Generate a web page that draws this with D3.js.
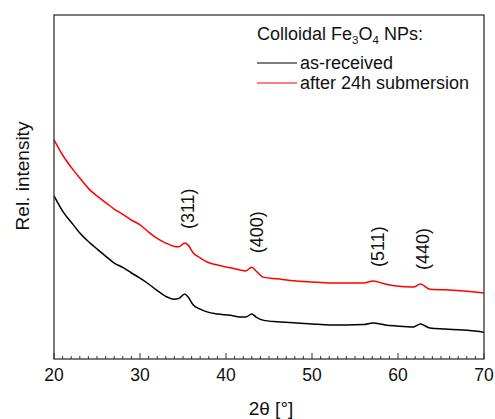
<!DOCTYPE html>
<meta charset="utf-8">
<script src="https://d3js.org/d3.v7.min.js"></script>
<style>
  body { margin: 0; background: #fff; }
  text { font-family: "Liberation Sans", Arial, sans-serif; fill: #111; }
</style>
<div id="chart"></div>
<script>
// 2theta values and relative intensities
var twoTheta = [20, 21, 22.25, 23, 24.2, 25, 26.1, 27, 28.1, 29, 30, 31, 31.9, 33, 33.9, 34.5, 35.2, 35.6, 36.2, 37, 37.8, 39, 40.5, 41.6, 42.3, 43, 43.5, 44.3, 46, 48.2, 50, 52.1, 54, 56, 57.1, 58.5, 59.8, 61.8, 62.6, 63.7, 65.5, 67.6, 70];
var submerged = [0.637, 0.593, 0.549, 0.526, 0.491, 0.474, 0.453, 0.436, 0.419, 0.404, 0.390, 0.369, 0.352, 0.337, 0.328, 0.326, 0.337, 0.331, 0.308, 0.294, 0.282, 0.273, 0.265, 0.259, 0.256, 0.267, 0.256, 0.238, 0.233, 0.227, 0.224, 0.221, 0.221, 0.221, 0.227, 0.218, 0.212, 0.209, 0.218, 0.203, 0.201, 0.198, 0.192];
var received = [0.474, 0.430, 0.390, 0.366, 0.337, 0.320, 0.297, 0.279, 0.265, 0.250, 0.235, 0.218, 0.201, 0.182, 0.174, 0.176, 0.189, 0.180, 0.157, 0.145, 0.137, 0.131, 0.127, 0.122, 0.122, 0.131, 0.122, 0.113, 0.108, 0.105, 0.102, 0.099, 0.099, 0.100, 0.105, 0.099, 0.096, 0.093, 0.102, 0.090, 0.087, 0.084, 0.078];

var peakLabels = ["(311)", "(400)", "(511)", "(440)"];
var peakPos = [35.6, 43.6, 57.6, 62.9];
var peakTop = [0.337, 0.267, 0.227, 0.218];   // red curve level under each label

var xTicks = [20, 30, 40, 50, 60, 70];

var W = 495, H = 419;
var margin = {top: 15, right: 11, bottom: 60, left: 54};
var width = W - margin.left - margin.right,
    height = H - margin.top - margin.bottom;

var svg = d3.select("#chart").append("svg")
  .attr("width", W).attr("height", H);
var g = svg.append("g")
  .attr("transform", "translate(" + margin.left + "," + margin.top + ")");

var x = d3.scaleLinear().domain([20, 70]).range([0, width]);
var y = d3.scaleLinear().domain([0, 1]).range([height, 0]);

// curves
var line = d3.line()
  .curve(d3.curveMonotoneX)
  .x(function(d) { return x(d[0]); })
  .y(function(d) { return y(d[1]); });

g.append("path")
  .datum(twoTheta.map(function(t, i) { return [t, received[i]]; }))
  .attr("d", line).attr("fill", "none")
  .attr("stroke", "#000").attr("stroke-width", 1.5);

g.append("path")
  .datum(twoTheta.map(function(t, i) { return [t, submerged[i]]; }))
  .attr("d", line).attr("fill", "none")
  .attr("stroke", "#ff0000").attr("stroke-width", 1.5);

// frame
g.append("rect")
  .attr("width", width).attr("height", height)
  .attr("fill", "none").attr("stroke", "#333").attr("stroke-width", 1.3);

// bottom axis, ticks pointing inward
var minor = d3.range(20, 71, 1);
g.selectAll(".tk").data(minor).enter().append("line")
  .attr("x1", function(d) { return x(d); })
  .attr("x2", function(d) { return x(d); })
  .attr("y1", height)
  .attr("y2", function(d) { return d % 10 === 0 ? height - 6 : height - 3; })
  .attr("stroke", "#333").attr("stroke-width", 1);

g.selectAll(".tl").data(xTicks).enter().append("text")
  .attr("x", function(d) { return x(d); })
  .attr("y", height + 22)
  .attr("text-anchor", "middle")
  .attr("font-size", 17.5)
  .text(function(d) { return d; });

// axis titles
svg.append("text")
  .attr("x", 271).attr("y", 415)
  .attr("text-anchor", "middle").attr("font-size", 19)
  .text("2\u03b8 [\u00b0]");

svg.append("text")
  .attr("transform", "translate(29,176) rotate(-90)")
  .attr("text-anchor", "middle").attr("font-size", 19)
  .text("Rel. intensity");

// peak labels
g.selectAll(".pk").data(peakLabels).enter().append("text")
  .attr("transform", function(d, i) {
    return "translate(" + x(peakPos[i]) + "," + (y(peakTop[i]) - 14) + ") rotate(-90)";
  })
  .attr("dy", "0.35em")
  .attr("font-size", 18)
  .text(function(d) { return d; });

// legend
var leg = svg.append("g");
var title = leg.append("text").attr("x", 257).attr("y", 40).attr("font-size", 18);
title.append("tspan").text("Colloidal Fe");
title.append("tspan").attr("font-size", 11.5).attr("dy", 4).text("3");
title.append("tspan").attr("dy", -4).text("O");
title.append("tspan").attr("font-size", 11.5).attr("dy", 4).text("4");
title.append("tspan").attr("dy", -4).text(" NPs:");

var legItems = [["as-received", "#000"], ["after 24h submersion", "#ff0000"]];
legItems.forEach(function(it, i) {
  var yy = 63 + i * 20;
  leg.append("line").attr("x1", 257).attr("x2", 297)
    .attr("y1", yy).attr("y2", yy)
    .attr("stroke", it[1]).attr("stroke-width", 1);
  leg.append("text").attr("x", 300).attr("y", yy + 6)
    .attr("font-size", 18).text(it[0]);
});
</script>
